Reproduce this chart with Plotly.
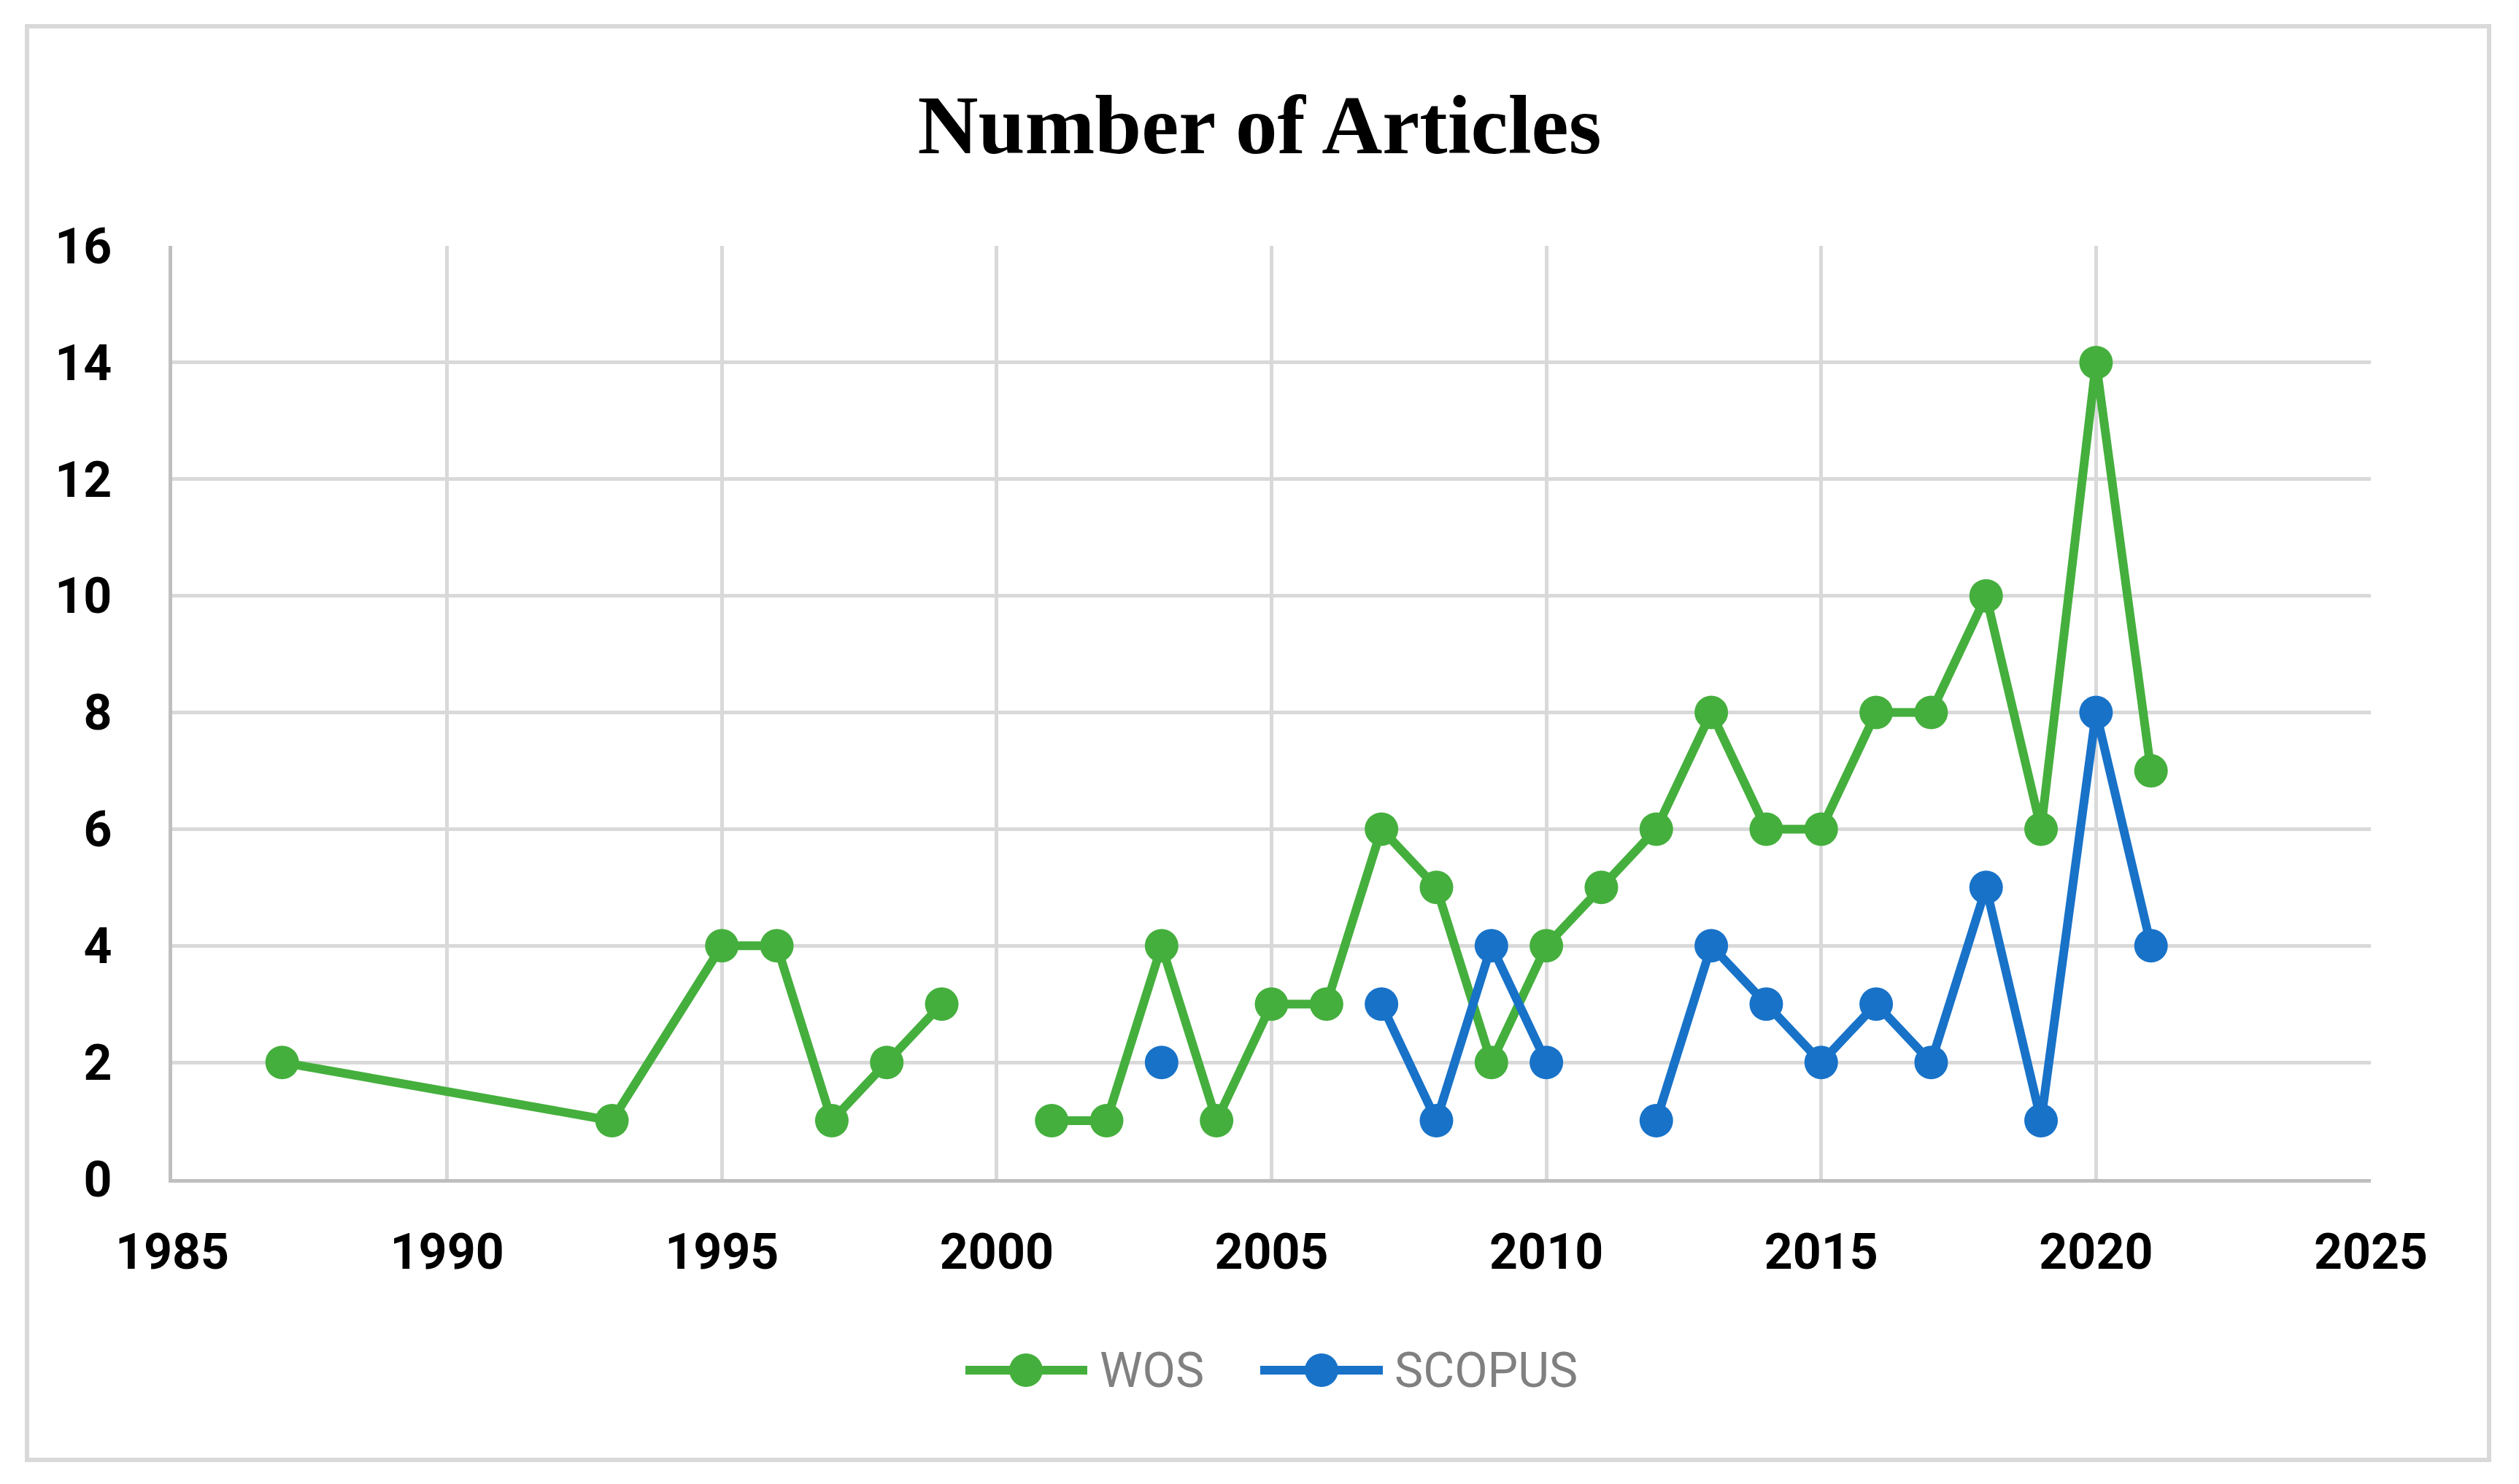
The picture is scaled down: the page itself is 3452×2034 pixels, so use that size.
import plotly.graph_objects as go

# ---- data ----
wos_years = [1987, 1993, 1995, 1996, 1997, 1998, 1999, 2000, 2001, 2002, 2003, 2004, 2005,
             2006, 2007, 2008, 2009, 2010, 2011, 2012, 2013, 2014, 2015, 2016, 2017, 2018,
             2019, 2020, 2021]
wos_counts = [2, 1, 4, 4, 1, 2, 3, None, 1, 1, 4, 1, 3,
              3, 6, 5, 2, 4, 5, 6, 8, 6, 6, 8, 8, 10,
              6, 14, 7]

scopus_years = [2003, 2004, 2007, 2008, 2009, 2010, 2011, 2012, 2013, 2014, 2015, 2016,
                2017, 2018, 2019, 2020, 2021]
scopus_counts = [2, None, 3, 1, 4, 2, None, 1, 4, 3, 2, 3,
                 2, 5, 1, 8, 4]

series_names = ["WOS", "SCOPUS"]
title_text = "Number of Articles"
x_ticks = [1985, 1990, 1995, 2000, 2005, 2010, 2015, 2020, 2025]
y_ticks = [0, 2, 4, 6, 8, 10, 12, 14, 16]

GREEN = "#45AF3D"
BLUE = "#1872C8"

W, H = 3452, 2034
L, R, T, B = 236, 3249, 337, 1616

def px(x):
    return (x - L) / (R - L)

def py(y):
    return (B - y) / (B - T)

fig = go.Figure()
fig.add_trace(go.Scatter(x=wos_years, y=wos_counts, mode="lines+markers", name=series_names[0],
                         line=dict(color=GREEN, width=12), marker=dict(size=46, color=GREEN),
                         connectgaps=False, showlegend=False))
fig.add_trace(go.Scatter(x=scopus_years, y=scopus_counts, mode="lines+markers", name=series_names[1],
                         line=dict(color=BLUE, width=12), marker=dict(size=46, color=BLUE),
                         connectgaps=False, showlegend=False))

tick_font = dict(family="Roboto, sans-serif", size=68, color="black", weight="bold")

fig.update_layout(
    width=W, height=H,
    margin=dict(l=L, r=W - R, t=T, b=H - B, autoexpand=False),
    paper_bgcolor="white", plot_bgcolor="white",
    title=dict(text="<b>" + title_text + "</b>", x=0.5, xref="container", xanchor="center",
               y=1 - 170 / H, yref="container", yanchor="middle",
               font=dict(family="Liberation Serif, Times New Roman, serif", size=115, color="black")),
    xaxis=dict(range=[1985, 2025], tickvals=x_ticks, ticktext=[str(v) for v in x_ticks],
               showgrid=True, gridcolor="#D9D9D9", gridwidth=5, zeroline=False,
               showline=True, linecolor="#BFBFBF", linewidth=5, ticks="",
               ticklabelstandoff=36, tickfont=tick_font),
    yaxis=dict(range=[0, 16], tickvals=y_ticks, ticktext=[str(v) for v in y_ticks],
               showgrid=True, gridcolor="#D9D9D9", gridwidth=5, zeroline=False,
               showline=True, linecolor="#BFBFBF", linewidth=5, ticks="",
               ticklabelstandoff=64, tickfont=tick_font),
    showlegend=False,
)

# outer chart border
fig.add_shape(type="rect", xref="paper", yref="paper",
              x0=px(37), x1=px(3411), y0=py(2001), y1=py(36),
              line=dict(color="#D9D9D9", width=6), fillcolor="rgba(0,0,0,0)", layer="below")

# manual legend
leg_y = py(1878)
legend_items = [
    (series_names[0], GREEN, 1323, 1490, 1406, 1505),
    (series_names[1], BLUE, 1727, 1895, 1811, 1909),
]
for name, col, lx0, lx1, mx, tx in legend_items:
    fig.add_shape(type="line", xref="paper", yref="paper", x0=px(lx0), x1=px(lx1), y0=leg_y, y1=leg_y,
                  line=dict(color=col, width=12))
    fig.add_shape(type="circle", xref="paper", yref="paper",
                  xsizemode="pixel", ysizemode="pixel", xanchor=px(mx), yanchor=leg_y,
                  x0=-23, x1=23, y0=-23, y1=23, line=dict(width=0), fillcolor=col)
    fig.add_annotation(xref="paper", yref="paper", x=px(tx), y=leg_y, text=name, showarrow=False,
                       xanchor="left", yanchor="middle",
                       font=dict(family="Roboto, sans-serif", size=66, color="#808080"))

fig.write_html("out.html", config={"displayModeBar": False},
               post_script="document.body.style.margin='0';")
